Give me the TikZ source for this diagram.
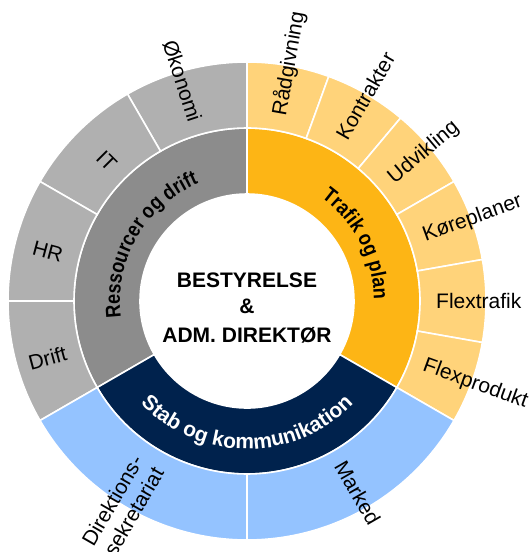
\documentclass[tikz,border=0pt]{standalone}
\usepackage{fontspec}
\setmainfont{Liberation Sans}
\newfontface\ringcondb[FakeStretch=0.86]{Liberation Sans Bold}
\usetikzlibrary{decorations.text}
\definecolor{orgD}{RGB}{253,181,21}
\definecolor{orgL}{RGB}{255,211,122}
\definecolor{gryD}{RGB}{140,140,140}
\definecolor{gryL}{RGB}{176,176,176}
\definecolor{navyC}{RGB}{0,34,77}
\definecolor{bluL}{RGB}{148,195,255}
\newcommand\ringsector[5]{%
  \fill[#1, draw=white, line width=1.6pt] (#2:#4pt) arc[start angle=#2, end angle=#3, radius=#4pt]
    -- (#3:#5pt) arc[start angle=#3, end angle=#2, radius=#5pt] -- cycle;}
\newcommand\ringfntc{\ringcondb\fontsize{21}{21}\selectfont}
\newcommand\ringfnt{\bfseries\fontsize{21}{21}\selectfont}
\tikzset{
  outlbl/.style={inner sep=0pt, font=\fontsize{21}{24}\selectfont},
  rlbl/.style={outlbl, anchor=west},
  llbl/.style={outlbl, anchor=east},
  ctrtxt/.style={inner sep=0pt, anchor=base, font=\bfseries\fontsize{21}{21}\selectfont}
}
\begin{document}
\begin{tikzpicture}[x=1pt,y=1pt]
\useasboundingbox (-247,-251) rectangle (284,301);
\clip (-247,-251) rectangle (284,301);
% inner ring
\ringsector{orgD}{90}{-30}{107}{173}
\ringsector{gryD}{90}{210}{107}{173}
\ringsector{navyC}{210}{330}{107}{173}
% outer ring: orange
\foreach \a in {90,70,50,30,10,-10}{\pgfmathsetmacro\b{\a-20}\ringsector{orgL}{\a}{\b}{173}{239}}
% outer ring: gray
\foreach \a in {90,120,150,180}{\pgfmathsetmacro\b{\a+30}\ringsector{gryL}{\a}{\b}{173}{239}}
% outer ring: blue
\ringsector{bluL}{210}{270}{173}{239}
\ringsector{bluL}{270}{330}{173}{239}
% center
\node[ctrtxt] (c1) at (0,13) {BESTYRELSE};
\node[ctrtxt] (c2) at (0,-12) {\&};
\node[ctrtxt] (c3) at (0,-41) {ADM. DIREKTØR};
% ring labels
\path[decorate, decoration={text along path, text align=center,
  text={|\ringfntc|Trafik og plan}}] (85:127pt) arc[start angle=85, end angle=-30, radius=127pt];
\path[decorate, decoration={text along path, text align=center,
  text={|\ringfntc|Ressourcer og drift}}] (210:127pt) arc[start angle=210, end angle=90, radius=127pt];
\path[decorate, decoration={text along path, text align=center,
  text={|\ringfnt\color{white}|Stab og kommunikation}}] (210:148pt) arc[start angle=210, end angle=330, radius=148pt];
% outer labels, right half
\node[rlbl, rotate=80] (radg) at (80:188pt) {Rådgivning};
\node[rlbl, rotate=60] (kontr) at (60:188pt) {Kontrakter};
\node[rlbl, rotate=40] (udv) at (40:188pt) {Udvikling};
\node[rlbl, rotate=20] (kore) at (20:188pt) {Køreplaner};
\node[rlbl, rotate=0] (flext) at (0:189pt) {Flextrafik};
\node[rlbl, rotate=-20] (flexp) at (-20:188pt) {Flexprodukt};
\node[rlbl, rotate=-60] (mark) at (-60:186pt) {Marked};
% outer labels, left half
\node[llbl, rotate=-72] (okon) at (106:187pt) {Økonomi};
\node[llbl, rotate=-45] (it) at (135:189pt) {IT};
\node[llbl, rotate=-15] (hr) at (166:190pt) {HR};
\node[llbl, rotate=15] (drift) at (196:188pt) {Drift};
\node[llbl, rotate=60, align=right] (dirs) at (238.5:190pt) {Direktions-\\sekretariat};
\end{tikzpicture}
\end{document}
